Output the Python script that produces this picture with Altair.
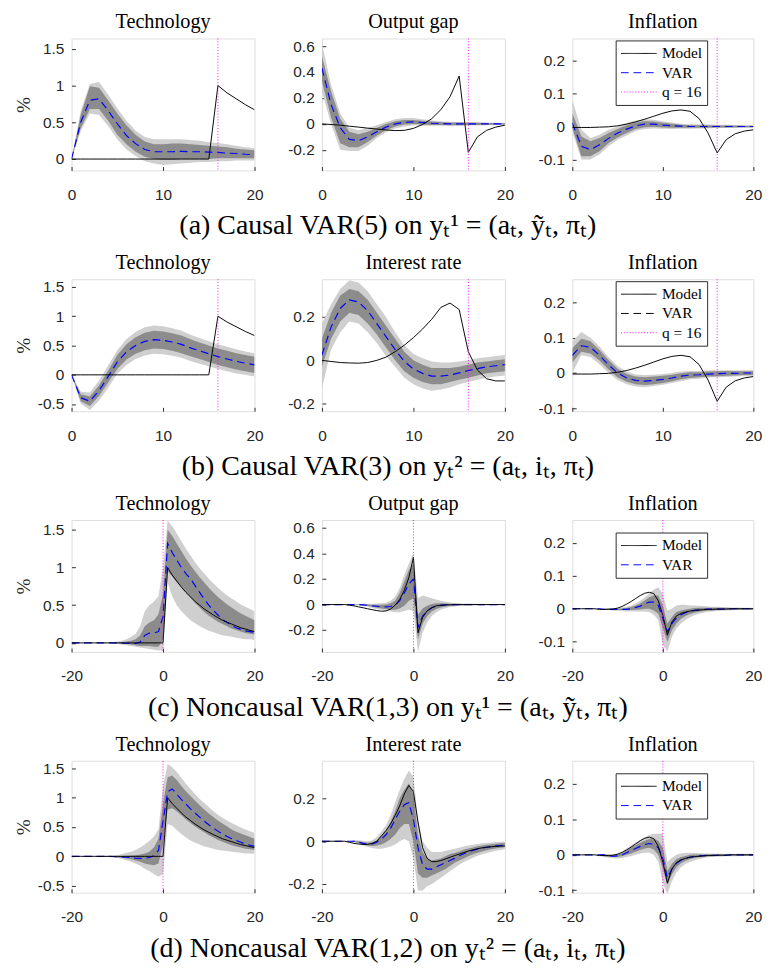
import altair as alt
import pandas as pd

SERIF = "Liberation Serif"
SANS = "Liberation Sans"
AXC = "#262626"
LIGHT = "#cfcfcf"
DARK = "#8c8c8c"
BLUE = "#0000ff"
MAG = "#ff00ff"

# ---------------- horizons ----------------
X_CAUSAL = [0, 1, 2, 3, 4, 5, 6, 7, 8, 9, 10, 11, 12, 13, 14, 15, 16, 17, 18, 19, 20]
X_NONCAUSAL = [-20, -19, -18, -17, -16, -15, -14, -13, -12, -11, -10, -9, -8, -7, -6, -5, -4, -3, -2, -1,
               0, 1, 2, 3, 4, 5, 6, 7, 8, 9, 10, 11, 12, 13, 14, 15, 16, 17, 18, 19, 20]

# ---------------- row (a) ----------------
A_TECH_MODEL = [0, 0, 0, 0, 0, 0, 0, 0, 0, 0, 0, 0, 0, 0, 0, 0, 1.0, 0.9, 0.82, 0.74, 0.67]
A_TECH_VAR = [0, 0.5, 0.8, 0.82, 0.66, 0.48, 0.32, 0.21, 0.13, 0.1, 0.1, 0.1, 0.105, 0.1, 0.1, 0.095, 0.09, 0.08, 0.075, 0.065, 0.06]
A_TECH_DLO = [0, 0.42, 0.68, 0.68, 0.52, 0.33, 0.2, 0.1, 0.03, 0.0, -0.01, -0.01, 0.0, 0.0, 0.0, 0.0, 0.01, 0.01, 0.01, 0.01, 0.01]
A_TECH_DHI = [0, 0.6, 0.99, 0.97, 0.8, 0.62, 0.46, 0.33, 0.24, 0.2, 0.2, 0.21, 0.21, 0.2, 0.19, 0.18, 0.17, 0.16, 0.14, 0.13, 0.12]
A_TECH_LLO = [0, 0.38, 0.62, 0.6, 0.45, 0.27, 0.13, 0.04, -0.03, -0.06, -0.08, -0.07, -0.06, -0.05, -0.04, -0.04, -0.03, -0.03, -0.02, -0.02, -0.02]
A_TECH_LHI = [0, 0.65, 1.02, 1.05, 0.88, 0.69, 0.52, 0.39, 0.3, 0.27, 0.27, 0.27, 0.27, 0.26, 0.25, 0.23, 0.22, 0.2, 0.18, 0.16, 0.15]

A_GAP_MODEL = [0, -0.005, -0.01, -0.018, -0.025, -0.033, -0.04, -0.047, -0.052, -0.05, -0.035, -0.005, 0.04, 0.11, 0.21, 0.37, -0.22, -0.1, -0.05, -0.025, -0.01]
A_GAP_VAR = [0.43, 0.15, -0.03, -0.12, -0.13, -0.1, -0.06, -0.025, 0.0, 0.012, 0.015, 0.01, 0.005, 0.002, 0, 0, 0, 0, 0, 0, 0]
A_GAP_DLO = [0.33, 0.05, -0.15, -0.18, -0.18, -0.14, -0.09, -0.05, -0.02, -0.005, 0.0, -0.005, -0.008, -0.009, -0.01, -0.01, -0.009, -0.008, -0.007, -0.006, -0.005]
A_GAP_DHI = [0.52, 0.25, 0.04, -0.06, -0.08, -0.06, -0.03, 0.0, 0.02, 0.03, 0.03, 0.025, 0.018, 0.012, 0.01, 0.01, 0.009, 0.008, 0.007, 0.006, 0.005]
A_GAP_LLO = [0.25, 0.0, -0.2, -0.21, -0.21, -0.17, -0.11, -0.065, -0.035, -0.02, -0.01, -0.015, -0.015, -0.015, -0.015, -0.015, -0.013, -0.012, -0.01, -0.009, -0.008]
A_GAP_LHI = [0.62, 0.3, 0.08, -0.03, -0.05, -0.03, -0.01, 0.015, 0.035, 0.045, 0.045, 0.035, 0.027, 0.02, 0.015, 0.015, 0.013, 0.012, 0.01, 0.009, 0.008]

A_INF_MODEL = [-0.003, -0.003, -0.003, -0.002, -0.001, 0.002, 0.007, 0.014, 0.022, 0.031, 0.04, 0.047, 0.05, 0.046, 0.024, -0.02, -0.08, -0.04, -0.022, -0.014, -0.01]
A_INF_VAR = [0.01, -0.06, -0.07, -0.055, -0.036, -0.02, -0.008, 0.002, 0.007, 0.007, 0.004, 0.002, 0.001, 0, 0, 0, 0, 0, 0, 0, 0]
A_INF_DLO = [-0.005, -0.09, -0.09, -0.075, -0.05, -0.033, -0.02, -0.008, -0.002, -0.001, -0.003, -0.004, -0.004, -0.004, -0.004, -0.004, -0.003, -0.003, -0.003, -0.002, -0.002]
A_INF_DHI = [0.04, -0.03, -0.045, -0.035, -0.02, -0.008, 0.004, 0.012, 0.016, 0.015, 0.011, 0.008, 0.005, 0.004, 0.004, 0.004, 0.003, 0.003, 0.003, 0.002, 0.002]
A_INF_LLO = [-0.015, -0.1, -0.1, -0.085, -0.06, -0.04, -0.027, -0.014, -0.008, -0.006, -0.007, -0.008, -0.007, -0.007, -0.006, -0.006, -0.005, -0.005, -0.004, -0.004, -0.004]
A_INF_LHI = [0.08, -0.01, -0.035, -0.025, -0.01, 0.0, 0.011, 0.018, 0.022, 0.02, 0.016, 0.012, 0.008, 0.007, 0.007, 0.006, 0.005, 0.005, 0.004, 0.004, 0.004]

# ---------------- row (b) ----------------
B_TECH_VAR = [0, -0.39, -0.45, -0.27, -0.03, 0.22, 0.39, 0.5, 0.57, 0.6, 0.59, 0.56, 0.52, 0.46, 0.41, 0.36, 0.31, 0.27, 0.23, 0.2, 0.17]
B_TECH_DLO = [0, -0.45, -0.53, -0.36, -0.13, 0.1, 0.26, 0.36, 0.42, 0.45, 0.44, 0.41, 0.37, 0.315, 0.27, 0.22, 0.17, 0.13, 0.09, 0.06, 0.03]
B_TECH_DHI = [0, -0.33, -0.37, -0.18, 0.07, 0.34, 0.52, 0.64, 0.72, 0.75, 0.74, 0.71, 0.67, 0.605, 0.55, 0.5, 0.45, 0.41, 0.37, 0.34, 0.31]
B_TECH_LLO = [0, -0.49, -0.6, -0.44, -0.22, 0.02, 0.17, 0.27, 0.33, 0.36, 0.35, 0.325, 0.29, 0.235, 0.19, 0.145, 0.1, 0.06, 0.025, 0.0, -0.03]
B_TECH_LHI = [0, -0.29, -0.3, -0.1, 0.16, 0.42, 0.61, 0.73, 0.81, 0.84, 0.83, 0.795, 0.75, 0.685, 0.63, 0.575, 0.52, 0.48, 0.435, 0.4, 0.37]

B_RATE_MODEL = [0, -0.005, -0.01, -0.012, -0.013, -0.01, 0.0, 0.015, 0.04, 0.07, 0.105, 0.145, 0.19, 0.245, 0.265, 0.235, 0.04, -0.045, -0.085, -0.095, -0.095]
B_RATE_VAR = [0.025, 0.155, 0.24, 0.28, 0.27, 0.23, 0.17, 0.11, 0.05, -0.005, -0.04, -0.06, -0.073, -0.073, -0.068, -0.058, -0.047, -0.038, -0.03, -0.025, -0.02]
B_RATE_DLO = [-0.03, 0.1, 0.18, 0.22, 0.21, 0.17, 0.12, 0.06, 0.0, -0.05, -0.08, -0.1, -0.11, -0.11, -0.1, -0.09, -0.08, -0.07, -0.06, -0.055, -0.05]
B_RATE_DHI = [0.1, 0.22, 0.3, 0.33, 0.32, 0.28, 0.22, 0.16, 0.1, 0.04, 0.0, -0.02, -0.035, -0.035, -0.035, -0.03, -0.02, -0.01, -0.005, 0.0, 0.005]
B_RATE_LLO = [-0.13, 0.05, 0.13, 0.18, 0.17, 0.13, 0.08, 0.02, -0.03, -0.08, -0.11, -0.13, -0.14, -0.135, -0.125, -0.11, -0.1, -0.09, -0.08, -0.075, -0.07]
B_RATE_LHI = [0.17, 0.26, 0.33, 0.37, 0.36, 0.32, 0.26, 0.2, 0.13, 0.07, 0.03, 0.01, -0.005, -0.01, -0.01, -0.005, 0.0, 0.01, 0.015, 0.02, 0.025]

B_INF_VAR = [0.05, 0.077, 0.073, 0.05, 0.023, 0.0, -0.014, -0.021, -0.023, -0.021, -0.018, -0.014, -0.009, -0.006, -0.005, -0.003, -0.002, -0.001, -0.001, 0.0, 0.0]
B_INF_DLO = [0.03, 0.06, 0.055, 0.035, 0.01, -0.012, -0.025, -0.032, -0.034, -0.032, -0.028, -0.023, -0.018, -0.014, -0.012, -0.01, -0.009, -0.008, -0.007, -0.006, -0.006]
B_INF_DHI = [0.07, 0.097, 0.09, 0.065, 0.037, 0.012, -0.003, -0.01, -0.012, -0.01, -0.008, -0.005, -0.001, 0.002, 0.002, 0.004, 0.005, 0.006, 0.005, 0.005, 0.005]
B_INF_LLO = [0.0, 0.05, 0.045, 0.025, 0.0, -0.02, -0.032, -0.038, -0.04, -0.037, -0.033, -0.028, -0.023, -0.018, -0.016, -0.013, -0.012, -0.011, -0.01, -0.009, -0.009]
B_INF_LHI = [0.09, 0.116, 0.1, 0.075, 0.045, 0.02, 0.004, -0.004, -0.006, -0.005, -0.003, 0.0, 0.004, 0.006, 0.006, 0.008, 0.008, 0.008, 0.008, 0.008, 0.008]

# ---------------- row (c) ----------------
C_TECH_MODEL = [0, 0, 0, 0, 0, 0, 0, 0, 0, 0, 0, 0, 0, 0, 0, 0, 0, 0, 0, 0, 0,
                1.0, 0.9, 0.82, 0.74, 0.67, 0.61, 0.55, 0.5, 0.45, 0.41, 0.37, 0.335, 0.3, 0.275, 0.25, 0.225, 0.2, 0.185, 0.165, 0.15]
C_TECH_VAR = [0, 0, 0, 0, 0, 0, 0, 0, 0, 0, 0, -0.003, -0.005, -0.008, -0.006, 0.01, 0.1, 0.13, 0.13, 0.15, 0.35,
              1.32, 1.2, 1.1, 1.0, 0.92, 0.85, 0.76, 0.67, 0.58, 0.5, 0.43, 0.37, 0.31, 0.27, 0.23, 0.2, 0.18, 0.16, 0.15, 0.14]
C_TECH_DLO = [0, 0, 0, 0, 0, 0, 0, 0, 0, 0, -0.005, -0.01, -0.015, -0.02, -0.03, -0.04, -0.04, -0.04, -0.05, -0.05, 0.05,
              0.95, 0.88, 0.8, 0.74, 0.67, 0.6, 0.53, 0.47, 0.41, 0.36, 0.32, 0.28, 0.25, 0.22, 0.19, 0.17, 0.15, 0.13, 0.12, 0.11]
C_TECH_DHI = [0, 0, 0, 0, 0, 0, 0, 0, 0, 0, 0.005, 0.01, 0.02, 0.03, 0.05, 0.1, 0.22, 0.27, 0.3, 0.38, 0.65,
              1.5, 1.42, 1.32, 1.22, 1.12, 1.03, 0.95, 0.87, 0.8, 0.73, 0.67, 0.61, 0.56, 0.51, 0.47, 0.43, 0.39, 0.36, 0.33, 0.3]
C_TECH_LLO = [0, 0, 0, 0, 0, 0, 0, 0, -0.005, -0.01, -0.015, -0.02, -0.03, -0.04, -0.05, -0.06, -0.07, -0.08, -0.09, -0.1, -0.1,
              0.8, 0.62, 0.5, 0.42, 0.36, 0.3, 0.26, 0.22, 0.19, 0.16, 0.14, 0.12, 0.1, 0.09, 0.08, 0.07, 0.06, 0.05, 0.05, 0.04]
C_TECH_LHI = [0, 0, 0, 0, 0, 0, 0, 0, 0.005, 0.01, 0.02, 0.03, 0.05, 0.08, 0.12, 0.22, 0.42, 0.5, 0.55, 0.62, 1.0,
              1.62, 1.55, 1.45, 1.35, 1.25, 1.16, 1.07, 0.99, 0.92, 0.85, 0.79, 0.73, 0.68, 0.63, 0.59, 0.55, 0.51, 0.48, 0.45, 0.42]

C_GAP_MODEL = [0, 0, 0, 0, 0, 0, -0.005, -0.01, -0.018, -0.025, -0.033, -0.04, -0.047, -0.052, -0.05, -0.035, -0.005, 0.04, 0.11, 0.21, 0.37,
               -0.22, -0.1, -0.05, -0.025, -0.01, -0.005, -0.003, -0.002, -0.001, 0, 0, 0, 0, 0, 0, 0, 0, 0, 0, 0]
C_GAP_VAR = [0, 0, 0, 0, 0, 0, 0, 0, 0, -0.003, -0.006, -0.01, -0.013, -0.016, -0.018, -0.015, -0.005, 0.03, 0.09, 0.16, 0.2,
             -0.18, -0.09, -0.05, -0.025, -0.012, -0.006, -0.003, 0, 0, 0, 0, 0, 0, 0, 0, 0, 0, 0, 0, 0]
C_GAP_DLO = [0, 0, 0, 0, 0, 0, 0, 0, -0.003, -0.008, -0.012, -0.018, -0.024, -0.03, -0.035, -0.04, -0.04, -0.03, -0.01, 0.03, 0.05,
             -0.27, -0.15, -0.09, -0.055, -0.035, -0.022, -0.015, -0.01, -0.008, -0.005, -0.005, -0.004, -0.004, -0.003, -0.003, -0.003, -0.002, -0.002, -0.002, -0.002]
C_GAP_DHI = [0, 0, 0, 0, 0, 0, 0, 0, 0.003, 0.002, 0.0, -0.002, -0.002, -0.002, 0.0, 0.01, 0.03, 0.09, 0.18, 0.27, 0.32,
             -0.08, -0.03, -0.01, 0.005, 0.01, 0.01, 0.008, 0.007, 0.006, 0.005, 0.005, 0.004, 0.004, 0.003, 0.003, 0.003, 0.002, 0.002, 0.002, 0.002]
C_GAP_LLO = [0, 0, 0, 0, 0, 0, 0, 0, -0.005, -0.012, -0.018, -0.026, -0.034, -0.042, -0.05, -0.055, -0.06, -0.06, -0.05, -0.04, -0.05,
             -0.37, -0.22, -0.14, -0.09, -0.06, -0.04, -0.028, -0.02, -0.015, -0.01, -0.009, -0.008, -0.007, -0.006, -0.006, -0.005, -0.005, -0.004, -0.004, -0.004]
C_GAP_LHI = [0, 0, 0, 0, 0, 0, 0, 0, 0.005, 0.006, 0.006, 0.006, 0.008, 0.01, 0.015, 0.03, 0.06, 0.13, 0.23, 0.32, 0.4,
             0.05, 0.07, 0.06, 0.05, 0.04, 0.03, 0.022, 0.017, 0.013, 0.01, 0.009, 0.008, 0.007, 0.006, 0.006, 0.005, 0.005, 0.004, 0.004, 0.004]

C_INF_MODEL = [0, 0, 0, 0, 0, 0, -0.002, -0.002, -0.002, -0.001, 0.002, 0.007, 0.014, 0.022, 0.031, 0.04, 0.047, 0.05, 0.046, 0.024, -0.02,
               -0.08, -0.04, -0.022, -0.014, -0.01, -0.007, -0.005, -0.004, -0.003, -0.002, -0.002, -0.001, -0.001, -0.001, 0, 0, 0, 0, 0, 0]
C_INF_VAR = [0, 0, 0, 0, 0, 0, 0, -0.002, -0.002, -0.002, -0.002, -0.002, -0.002, 0.0, 0.004, 0.008, 0.015, 0.02, 0.02, 0.01, -0.03,
             -0.07, -0.045, -0.028, -0.018, -0.012, -0.008, -0.005, -0.003, -0.002, -0.001, -0.001, -0.001, -0.001, -0.001, 0, 0, 0, 0, 0, 0]
C_INF_DLO = [0, 0, 0, 0, 0, 0, 0, 0, -0.002, -0.003, -0.004, -0.004, -0.004, -0.004, -0.003, -0.002, 0.0, 0.0, -0.005, -0.015, -0.06,
             -0.1, -0.065, -0.045, -0.03, -0.022, -0.016, -0.012, -0.009, -0.007, -0.005, -0.005, -0.004, -0.004, -0.003, -0.003, -0.003, -0.002, -0.002, -0.002, -0.002]
C_INF_DHI = [0, 0, 0, 0, 0, 0, 0, 0, 0.001, 0.0, 0.0, 0.001, 0.002, 0.005, 0.01, 0.016, 0.025, 0.035, 0.04, 0.04, 0.01,
             -0.045, -0.025, -0.01, -0.005, -0.002, 0.0, 0.002, 0.003, 0.003, 0.003, 0.003, 0.003, 0.003, 0.002, 0.002, 0.002, 0.002, 0.002, 0.002, 0.002]
C_INF_LLO = [0, 0, 0, 0, 0, 0, 0, 0, -0.003, -0.005, -0.006, -0.007, -0.008, -0.008, -0.008, -0.008, -0.008, -0.01, -0.018, -0.035, -0.11,
             -0.13, -0.085, -0.06, -0.045, -0.034, -0.026, -0.02, -0.015, -0.012, -0.009, -0.008, -0.007, -0.006, -0.005, -0.005, -0.004, -0.004, -0.003, -0.003, -0.003]
C_INF_LHI = [0, 0, 0, 0, 0, 0, 0, 0, 0.002, 0.002, 0.003, 0.004, 0.006, 0.01, 0.016, 0.024, 0.034, 0.047, 0.058, 0.065, 0.045,
             -0.005, 0.0, 0.01, 0.012, 0.012, 0.01, 0.01, 0.009, 0.008, 0.007, 0.006, 0.006, 0.005, 0.005, 0.004, 0.004, 0.004, 0.003, 0.003, 0.003]

# ---------------- row (d) ----------------
D_TECH_VAR = [0, 0, 0, 0, 0, 0, 0, 0, 0, -0.003, -0.006, -0.01, -0.015, -0.02, -0.03, -0.035, -0.035, -0.02, 0.01, 0.1, 0.6,
              1.1, 1.15, 1.06, 0.97, 0.89, 0.81, 0.74, 0.67, 0.6, 0.54, 0.48, 0.43, 0.38, 0.34, 0.3, 0.27, 0.24, 0.21, 0.19, 0.17]
D_TECH_DLO = [0, 0, 0, 0, 0, 0, 0, -0.005, -0.008, -0.012, -0.018, -0.025, -0.035, -0.05, -0.07, -0.09, -0.12, -0.14, -0.15, -0.12, 0.2,
              0.8, 0.82, 0.77, 0.7, 0.63, 0.57, 0.51, 0.46, 0.41, 0.36, 0.32, 0.28, 0.25, 0.22, 0.19, 0.17, 0.15, 0.13, 0.12, 0.11]
D_TECH_DHI = [0, 0, 0, 0, 0, 0, 0, 0.003, 0.004, 0.005, 0.006, 0.008, 0.01, 0.015, 0.02, 0.03, 0.05, 0.08, 0.15, 0.3, 0.9,
              1.35, 1.38, 1.3, 1.2, 1.11, 1.03, 0.95, 0.87, 0.8, 0.73, 0.67, 0.61, 0.56, 0.51, 0.46, 0.42, 0.39, 0.36, 0.33, 0.3]
D_TECH_LLO = [0, 0, 0, 0, 0, 0, 0, -0.008, -0.012, -0.02, -0.03, -0.045, -0.065, -0.09, -0.12, -0.16, -0.21, -0.25, -0.3, -0.35, -0.3,
              0.55, 0.52, 0.45, 0.38, 0.32, 0.27, 0.23, 0.2, 0.17, 0.15, 0.13, 0.11, 0.1, 0.09, 0.08, 0.07, 0.06, 0.05, 0.05, 0.04]
D_TECH_LHI = [0, 0, 0, 0, 0, 0, 0, 0.006, 0.01, 0.016, 0.025, 0.04, 0.06, 0.08, 0.11, 0.15, 0.2, 0.26, 0.34, 0.46, 1.2,
              1.58, 1.52, 1.44, 1.34, 1.24, 1.15, 1.06, 0.98, 0.91, 0.84, 0.77, 0.71, 0.66, 0.61, 0.57, 0.53, 0.49, 0.46, 0.43, 0.4]

D_RATE_MODEL = [0, 0, 0, 0, 0, 0, -0.005, -0.01, -0.013, -0.015, -0.015, -0.01, 0.0, 0.025, 0.05, 0.08, 0.12, 0.165, 0.22, 0.26, 0.23,
                0.09, -0.03, -0.08, -0.095, -0.095, -0.09, -0.083, -0.075, -0.067, -0.06, -0.053, -0.046, -0.04, -0.035, -0.031, -0.028, -0.026, -0.024, -0.023, -0.022]
D_RATE_VAR = [0, 0, 0, 0, 0, 0, 0, 0, -0.004, -0.01, -0.015, -0.013, -0.005, 0.01, 0.03, 0.06, 0.1, 0.14, 0.17, 0.18, 0.1,
              -0.03, -0.11, -0.13, -0.13, -0.12, -0.11, -0.1, -0.09, -0.08, -0.068, -0.058, -0.05, -0.043, -0.037, -0.032, -0.028, -0.025, -0.022, -0.02, -0.018]
D_RATE_DLO = [0, 0, 0, 0, 0, 0, 0, -0.003, -0.008, -0.015, -0.02, -0.022, -0.02, -0.015, -0.005, 0.01, 0.03, 0.06, 0.08, 0.08, 0.0,
              -0.15, -0.17, -0.17, -0.16, -0.15, -0.14, -0.13, -0.115, -0.1, -0.09, -0.08, -0.07, -0.061, -0.054, -0.048, -0.042, -0.038, -0.034, -0.031, -0.028]
D_RATE_DHI = [0, 0, 0, 0, 0, 0, 0, 0.002, 0.0, -0.004, -0.007, -0.004, 0.005, 0.025, 0.05, 0.09, 0.14, 0.2, 0.24, 0.27, 0.22,
              0.03, -0.05, -0.08, -0.09, -0.085, -0.08, -0.07, -0.06, -0.055, -0.048, -0.04, -0.034, -0.029, -0.024, -0.02, -0.017, -0.014, -0.012, -0.01, -0.008]
D_RATE_LLO = [0, 0, 0, 0, 0, 0, 0, -0.005, -0.012, -0.02, -0.027, -0.032, -0.035, -0.035, -0.03, -0.025, -0.015, 0.0, 0.01, 0.0, -0.08,
              -0.23, -0.23, -0.21, -0.2, -0.185, -0.17, -0.155, -0.14, -0.125, -0.11, -0.097, -0.087, -0.077, -0.068, -0.061, -0.055, -0.05, -0.045, -0.041, -0.037]
D_RATE_LHI = [0, 0, 0, 0, 0, 0, 0, 0.004, 0.004, 0.002, 0.0, 0.005, 0.02, 0.045, 0.075, 0.12, 0.18, 0.24, 0.29, 0.33, 0.3,
              0.1, 0.0, -0.03, -0.05, -0.05, -0.05, -0.045, -0.04, -0.035, -0.03, -0.025, -0.02, -0.016, -0.013, -0.01, -0.008, -0.006, -0.004, -0.003, -0.002]

D_INF_VAR = [0, 0, 0, 0, 0, 0, 0, 0, -0.003, -0.004, -0.003, 0.0, 0.006, 0.012, 0.018, 0.024, 0.029, 0.032, 0.03, 0.02, -0.01,
             -0.065, -0.04, -0.024, -0.015, -0.01, -0.006, -0.004, -0.003, -0.002, -0.001, -0.001, -0.001, -0.001, -0.001, 0, 0, 0, 0, 0, 0]
D_INF_DLO = [0, 0, 0, 0, 0, 0, 0, -0.004, -0.005, -0.006, -0.006, -0.004, 0.0, 0.004, 0.009, 0.014, 0.018, 0.02, 0.015, 0.0, -0.04,
             -0.085, -0.055, -0.035, -0.024, -0.017, -0.012, -0.009, -0.007, -0.005, -0.004, -0.004, -0.003, -0.003, -0.003, -0.002, -0.002, -0.002, -0.002, -0.002, -0.002]
D_INF_DHI = [0, 0, 0, 0, 0, 0, 0, 0.001, 0.0, -0.001, 0.001, 0.004, 0.012, 0.02, 0.027, 0.034, 0.04, 0.045, 0.046, 0.04, 0.02,
             -0.045, -0.025, -0.012, -0.006, -0.003, 0.0, 0.001, 0.001, 0.001, 0.002, 0.002, 0.002, 0.002, 0.002, 0.002, 0.002, 0.002, 0.002, 0.002, 0.002]
D_INF_LLO = [0, 0, 0, 0, 0, 0, 0, -0.006, -0.008, -0.009, -0.01, -0.009, -0.006, -0.003, 0.0, 0.004, 0.006, 0.006, 0.0, -0.02, -0.08,
             -0.11, -0.075, -0.05, -0.035, -0.026, -0.02, -0.015, -0.012, -0.009, -0.007, -0.006, -0.005, -0.005, -0.004, -0.004, -0.004, -0.003, -0.003, -0.003, -0.003]
D_INF_LHI = [0, 0, 0, 0, 0, 0, 0, 0.003, 0.002, 0.002, 0.004, 0.009, 0.018, 0.027, 0.035, 0.042, 0.05, 0.056, 0.06, 0.06, 0.06,
             -0.02, -0.008, 0.0, 0.004, 0.006, 0.006, 0.006, 0.005, 0.004, 0.004, 0.004, 0.003, 0.003, 0.003, 0.003, 0.003, 0.003, 0.003, 0.003, 0.003]

# ---------------- axes / labels ----------------
TECH_TICKS_AC = [0, 0.5, 1, 1.5]
TECH_TICKS_BD = [-0.5, 0, 0.5, 1, 1.5]
GAP_TICKS = [-0.2, 0, 0.2, 0.4, 0.6]
RATE_TICKS = [-0.2, 0, 0.2]
INF_TICKS = [-0.1, 0, 0.1, 0.2]
XTICKS_CAUSAL = [0, 10, 20]
XTICKS_NONCAUSAL = [-20, 0, 20]
Q_CAUSAL = [16]
Q_NONCAUSAL = [0]

LEG3_NAMES = ["Model", "VAR", "q = 16"]
LEG2_NAMES = ["Model", "VAR"]
CAPTIONS = [
    "(a) Causal VAR(5) on yₜ¹ = (aₜ, ỹₜ, πₜ)",
    "(b) Causal VAR(3) on yₜ² = (aₜ, iₜ, πₜ)",
    "(c) Noncausal VAR(1,3) on yₜ¹ = (aₜ, ỹₜ, πₜ)",
    "(d) Noncausal VAR(1,2) on yₜ² = (aₜ, iₜ, πₜ)",
]

PH = 137
TICK = 4


def panel(xv, model, var, dlo, dhi, llo, lhi, qx, ydom, yticks, xticks, name, width, first, legend=None):
    df = pd.DataFrame({"x": xv, "model": model, "var": var, "dlo": dlo, "dhi": dhi, "llo": llo, "lhi": lhi})
    xscale = alt.Scale(domain=[xv[0], xv[-1]], nice=False, zero=False)
    yscale = alt.Scale(domain=ydom, nice=False, zero=False)
    # ticks drawn inward: axis moved inside by TICK px, ticks pointing outward to the frame
    xaxis = alt.Axis(values=xticks, title=None, grid=False, ticks=True, tickSize=TICK, tickColor=AXC,
                     tickWidth=1, offset=-TICK, domain=False, labelFlush=False,
                     labelOverlap=False, labelPadding=17, labelFont=SANS, labelFontSize=16, labelColor=AXC,
                     labelExpr="datum.value + ''")
    yargs = dict(values=yticks, grid=False, ticks=True, tickSize=TICK, tickColor=AXC, tickWidth=1,
                 offset=-TICK, domain=False, labelPadding=8, labelFont=SANS,
                 labelFontSize=16, labelColor=AXC, labelExpr="datum.value + ''", labelOverlap=False,
                 minExtent=40 + TICK, maxExtent=40 + TICK)
    if first:
        yaxis = alt.Axis(title="%", titleFont=SERIF, titleFontSize=20, titleFontWeight="normal",
                         titleColor=AXC, titlePadding=0, **yargs)
    else:
        yaxis = alt.Axis(title=None, **yargs)
    base = alt.Chart(df)
    X = alt.X("x:Q", scale=xscale, axis=xaxis)

    def Y(f):
        return alt.Y(f, type="quantitative", scale=yscale, axis=yaxis)

    light = base.mark_area(color=LIGHT, clip=True).encode(x=X, y=Y("llo"), y2="lhi:Q")
    dark = base.mark_area(color=DARK, clip=True).encode(x=X, y=Y("dlo"), y2="dhi:Q")
    varl = base.mark_line(color=BLUE, strokeDash=[8, 5], strokeWidth=1.2, clip=True).encode(x=X, y=Y("var"))
    modl = base.mark_line(color="black", strokeWidth=1, clip=True).encode(x=X, y=Y("model"))
    rule = alt.Chart(pd.DataFrame({"x": qx})).mark_rule(color=MAG, strokeDash=[1, 2], strokeWidth=1).encode(x=X)
    layers = [light, dark, varl, modl, rule]
    if legend is not None:
        names, colors, dashes, ly, key = legend
        field = "series_" + key
        lk = dict(orient="none", legendX=45, legendY=ly, title=None, direction="vertical",
                  symbolType="stroke", symbolSize=1369, symbolStrokeWidth=1, labelFont=SERIF,
                  labelFontSize=16, labelColor="black", labelOffset=5, padding=5, rowPadding=3,
                  clipHeight=17, strokeColor=AXC, fillColor="white", symbolOpacity=1)
        leg = alt.Chart(pd.DataFrame({field: names})).transform_filter("false").mark_line().encode(
            x=alt.value(0), y=alt.value(0),
            color=alt.Color(field + ":N", scale=alt.Scale(domain=names, range=colors), legend=alt.Legend(**lk)),
            strokeDash=alt.StrokeDash(field + ":N", scale=alt.Scale(domain=names, range=dashes),
                                      legend=alt.Legend(**lk)))
        layers.append(leg)
    return alt.layer(*layers).properties(
        width=width, height=PH,
        title=alt.TitleParams(name, font=SERIF, fontSize=21, fontWeight="normal", color="black",
                              anchor="middle", frame="group", offset=6))


def row(panels, caption):
    return alt.hconcat(*panels, spacing=19).properties(
        title=alt.TitleParams(caption, orient="bottom", anchor="middle", frame="bounds", font=SERIF,
                              fontSize=29, fontWeight="normal", color="black", offset=10)
    ).resolve_scale(color="independent", strokeDash="independent").resolve_legend(
        color="independent", strokeDash="independent")


S, D, T = [1, 0], [8, 5], [1, 2]

rowA = row([
    panel(X_CAUSAL, A_TECH_MODEL, A_TECH_VAR, A_TECH_DLO, A_TECH_DHI, A_TECH_LLO, A_TECH_LHI, Q_CAUSAL,
          [-0.155, 1.64], TECH_TICKS_AC, XTICKS_CAUSAL, "Technology", 190, True),
    panel(X_CAUSAL, A_GAP_MODEL, A_GAP_VAR, A_GAP_DLO, A_GAP_DHI, A_GAP_LLO, A_GAP_LHI, Q_CAUSAL,
          [-0.36, 0.66], GAP_TICKS, XTICKS_CAUSAL, "Output gap", 190, False),
    panel(X_CAUSAL, A_INF_MODEL, A_INF_VAR, A_INF_DLO, A_INF_DHI, A_INF_LLO, A_INF_LHI, Q_CAUSAL,
          [-0.133, 0.266], INF_TICKS, XTICKS_CAUSAL, "Inflation", 188, False,
          legend=(LEG3_NAMES, ["black", BLUE, MAG], [S, D, T], 2, "a")),
], CAPTIONS[0])

rowB = row([
    panel(X_CAUSAL, A_TECH_MODEL, B_TECH_VAR, B_TECH_DLO, B_TECH_DHI, B_TECH_LLO, B_TECH_LHI, Q_CAUSAL,
          [-0.62, 1.63], TECH_TICKS_BD, XTICKS_CAUSAL, "Technology", 190, True),
    panel(X_CAUSAL, B_RATE_MODEL, B_RATE_VAR, B_RATE_DLO, B_RATE_DHI, B_RATE_LLO, B_RATE_LHI, Q_CAUSAL,
          [-0.235, 0.375], RATE_TICKS, XTICKS_CAUSAL, "Interest rate", 190, False),
    panel(X_CAUSAL, A_INF_MODEL, B_INF_VAR, B_INF_DLO, B_INF_DHI, B_INF_LLO, B_INF_LHI, Q_CAUSAL,
          [-0.108, 0.265], INF_TICKS, XTICKS_CAUSAL, "Inflation", 188, False,
          legend=(LEG3_NAMES, ["black", "black", MAG], [S, D, T], 2, "b")),
], CAPTIONS[1])

rowC = row([
    panel(X_NONCAUSAL, C_TECH_MODEL, C_TECH_VAR, C_TECH_DLO, C_TECH_DHI, C_TECH_LLO, C_TECH_LHI, Q_NONCAUSAL,
          [-0.12, 1.63], TECH_TICKS_AC, XTICKS_NONCAUSAL, "Technology", 190, True),
    panel(X_NONCAUSAL, C_GAP_MODEL, C_GAP_VAR, C_GAP_DLO, C_GAP_DHI, C_GAP_LLO, C_GAP_LHI, Q_NONCAUSAL,
          [-0.37, 0.66], GAP_TICKS, XTICKS_NONCAUSAL, "Output gap", 190, False),
    panel(X_NONCAUSAL, C_INF_MODEL, C_INF_VAR, C_INF_DLO, C_INF_DHI, C_INF_LLO, C_INF_LHI, Q_NONCAUSAL,
          [-0.131, 0.269], INF_TICKS, XTICKS_NONCAUSAL, "Inflation", 188, False,
          legend=(LEG2_NAMES, ["black", BLUE], [S, D], 13, "c")),
], CAPTIONS[2])

rowD = row([
    panel(X_NONCAUSAL, C_TECH_MODEL, D_TECH_VAR, D_TECH_DLO, D_TECH_DHI, D_TECH_LLO, D_TECH_LHI, Q_NONCAUSAL,
          [-0.62, 1.63], TECH_TICKS_BD, XTICKS_NONCAUSAL, "Technology", 190, True),
    panel(X_NONCAUSAL, D_RATE_MODEL, D_RATE_VAR, D_RATE_DLO, D_RATE_DHI, D_RATE_LLO, D_RATE_LHI, Q_NONCAUSAL,
          [-0.24, 0.375], RATE_TICKS, XTICKS_NONCAUSAL, "Interest rate", 190, False),
    panel(X_NONCAUSAL, C_INF_MODEL, D_INF_VAR, D_INF_DLO, D_INF_DHI, D_INF_LLO, D_INF_LHI, Q_NONCAUSAL,
          [-0.107, 0.266], INF_TICKS, XTICKS_NONCAUSAL, "Inflation", 188, False,
          legend=(LEG2_NAMES, ["black", BLUE], [S, D], 13, "d")),
], CAPTIONS[3])

chart = alt.vconcat(rowA, rowB, rowC, rowD, spacing=12).properties(
    padding={"left": 5, "top": -15, "right": 0, "bottom": 0}
).resolve_scale(color="independent", strokeDash="independent").resolve_legend(
    color="independent", strokeDash="independent"
).configure_view(stroke=AXC, strokeWidth=1).configure_title(
    font=SERIF, fontWeight="normal", color="black"
).configure(background="white")

chart.save("out.html", embed_options={"renderer": "svg", "actions": False})
